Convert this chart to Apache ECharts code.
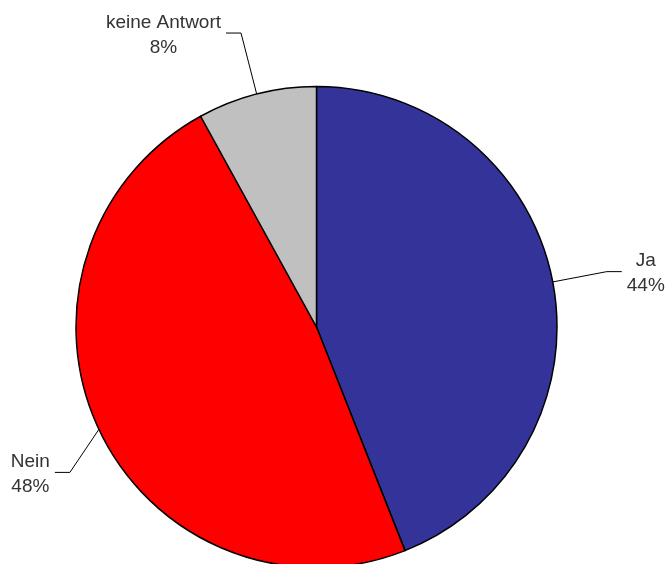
<!DOCTYPE html>
<html>
<head>
<meta charset="utf-8">
<script src="https://cdn.jsdelivr.net/npm/echarts@6/dist/echarts.min.js"></script>
<style>html,body{margin:0;padding:0;background:#fff}#c{width:667px;height:564px}</style>
</head>
<body>
<div id="c"></div>
<script>
const categories = ['Ja', 'Nein', 'keine Antwort'];
const values = [44, 48, 8];
const colors = ['#333399', '#ff0000', '#c0c0c0'];
const lineLengths = [55, 50, 63];

const chart = echarts.init(document.getElementById('c'), null, {renderer: 'canvas'});
const data = categories.map((name, i) => ({
  name: name,
  value: values[i],
  itemStyle: {color: colors[i]},
  labelLine: {length: lineLengths[i], length2: 15}
}));

chart.setOption({
  animation: false,
  backgroundColor: '#ffffff',
  series: [{
    type: 'pie',
    center: [316.5, 327],
    radius: 240.5,
    startAngle: 90,
    clockwise: true,
    avoidLabelOverlap: false,
    data: data,
    itemStyle: {borderColor: '#000', borderWidth: 1.5},
    emphasis: {disabled: true},
    label: {
      show: true,
      position: 'outside',
      formatter: '{b}\n{c}%',
      fontFamily: 'Liberation Sans, Arial, sans-serif',
      fontSize: 19,
      lineHeight: 25,
      color: '#333333',
      distanceToLabelLine: 5
    },
    labelLine: {
      show: true,
      smooth: false,
      lineStyle: {color: '#000', width: 1}
    },
    labelLayout: function (params) {
      let pts = params.labelLinePoints;
      if (!pts) return {};
      if (params.dataIndex === 1) {
        const p0 = pts[0];
        const p1 = [p0[0] - 29, p0[1] + 43];
        const p2 = [p1[0] - 15, p1[1]];
        pts = [p0, p1, p2];
      }
      const end = pts[2];
      const dir = end[0] < pts[1][0] ? -1 : 1;
      const w = params.labelRect.width;
      return {
        x: end[0] + dir * (5 + w / 2),
        y: end[1] + 2,
        align: 'center',
        verticalAlign: 'middle',
        labelLinePoints: pts
      };
    }
  }]
});
</script>
</body>
</html>
